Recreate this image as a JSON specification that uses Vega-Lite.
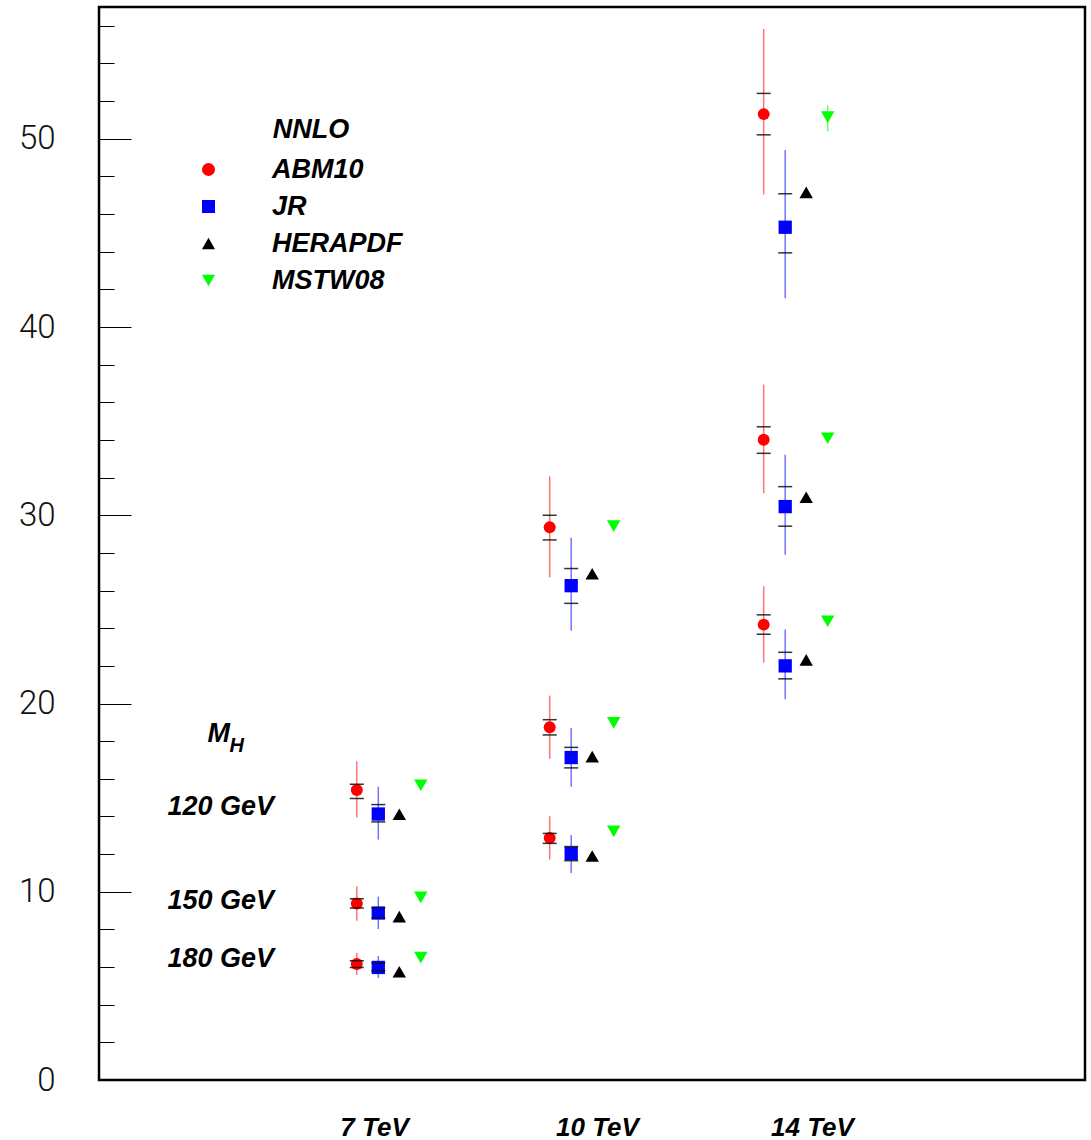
{
  "$schema": "https://vega.github.io/schema/vega-lite/v6.json",
  "width": 986,
  "height": 1073,
  "autosize": {"type": "none"},
  "padding": {"left": 99, "top": 7, "right": 6, "bottom": 60},
  "background": "white",
  "config": {
    "view": {"stroke": "#000", "strokeWidth": 2.5},
    "axis": {"grid": false, "domain": false}
  },
  "datasets": {
    "main": [
      {"E": 7, "mh": 120, "pdf": "ABM10", "v": 15.41, "lo": 13.95, "hi": 16.93, "tlo": 14.95, "thi": 15.71},
      {"E": 7, "mh": 120, "pdf": "JR", "v": 14.13, "lo": 12.77, "hi": 15.58, "tlo": 13.71, "thi": 14.63},
      {"E": 7, "mh": 120, "pdf": "HERAPDF", "v": 14.12},
      {"E": 7, "mh": 120, "pdf": "MSTW08", "v": 15.66},
      {"E": 7, "mh": 150, "pdf": "ABM10", "v": 9.38, "lo": 8.46, "hi": 10.29, "tlo": 9.14, "thi": 9.63},
      {"E": 7, "mh": 150, "pdf": "JR", "v": 8.87, "lo": 8.02, "hi": 9.74, "tlo": 8.61, "thi": 9.15},
      {"E": 7, "mh": 150, "pdf": "HERAPDF", "v": 8.68},
      {"E": 7, "mh": 150, "pdf": "MSTW08", "v": 9.7},
      {"E": 7, "mh": 180, "pdf": "ABM10", "v": 6.16, "lo": 5.58, "hi": 6.76, "tlo": 5.98, "thi": 6.34},
      {"E": 7, "mh": 180, "pdf": "JR", "v": 5.98, "lo": 5.42, "hi": 6.59, "tlo": 5.81, "thi": 6.22},
      {"E": 7, "mh": 180, "pdf": "HERAPDF", "v": 5.75},
      {"E": 7, "mh": 180, "pdf": "MSTW08", "v": 6.5},
      {"E": 10, "mh": 120, "pdf": "ABM10", "v": 29.36, "lo": 26.7, "hi": 32.07, "tlo": 28.69, "thi": 30.0},
      {"E": 10, "mh": 120, "pdf": "JR", "v": 26.26, "lo": 23.87, "hi": 28.8, "tlo": 25.32, "thi": 27.17},
      {"E": 10, "mh": 120, "pdf": "HERAPDF", "v": 26.89},
      {"E": 10, "mh": 120, "pdf": "MSTW08", "v": 29.42},
      {"E": 10, "mh": 150, "pdf": "ABM10", "v": 18.74, "lo": 17.06, "hi": 20.42, "tlo": 18.33, "thi": 19.14},
      {"E": 10, "mh": 150, "pdf": "JR", "v": 17.13, "lo": 15.58, "hi": 18.7, "tlo": 16.58, "thi": 17.67},
      {"E": 10, "mh": 150, "pdf": "HERAPDF", "v": 17.18},
      {"E": 10, "mh": 150, "pdf": "MSTW08", "v": 18.97},
      {"E": 10, "mh": 180, "pdf": "ABM10", "v": 12.86, "lo": 11.71, "hi": 14.01, "tlo": 12.57, "thi": 13.1},
      {"E": 10, "mh": 180, "pdf": "JR", "v": 12.04, "lo": 11.0, "hi": 13.02, "tlo": 11.65, "thi": 12.4},
      {"E": 10, "mh": 180, "pdf": "HERAPDF", "v": 11.9},
      {"E": 10, "mh": 180, "pdf": "MSTW08", "v": 13.21},
      {"E": 14, "mh": 120, "pdf": "ABM10", "v": 51.31, "lo": 47.04, "hi": 55.84, "tlo": 50.21, "thi": 52.41},
      {"E": 14, "mh": 120, "pdf": "JR", "v": 45.3, "lo": 41.53, "hi": 49.41, "tlo": 43.94, "thi": 47.08},
      {"E": 14, "mh": 120, "pdf": "HERAPDF", "v": 47.15},
      {"E": 14, "mh": 120, "pdf": "MSTW08", "v": 51.15, "lo": 50.4, "hi": 51.77},
      {"E": 14, "mh": 150, "pdf": "ABM10", "v": 34.01, "lo": 31.17, "hi": 36.94, "tlo": 33.29, "thi": 34.7},
      {"E": 14, "mh": 150, "pdf": "JR", "v": 30.46, "lo": 27.9, "hi": 33.21, "tlo": 29.42, "thi": 31.52},
      {"E": 14, "mh": 150, "pdf": "HERAPDF", "v": 30.96},
      {"E": 14, "mh": 150, "pdf": "MSTW08", "v": 34.09},
      {"E": 14, "mh": 180, "pdf": "ABM10", "v": 24.19, "lo": 22.17, "hi": 26.23, "tlo": 23.68, "thi": 24.71},
      {"E": 14, "mh": 180, "pdf": "JR", "v": 22.0, "lo": 20.22, "hi": 23.93, "tlo": 21.31, "thi": 22.72},
      {"E": 14, "mh": 180, "pdf": "HERAPDF", "v": 22.32},
      {"E": 14, "mh": 180, "pdf": "MSTW08", "v": 24.37}
    ],
    "ann": [
      {"kind": "mass", "t": "120 GeV", "E": 7, "yv": 14.49},
      {"kind": "mass", "t": "150 GeV", "E": 7, "yv": 9.49},
      {"kind": "mass", "t": "180 GeV", "E": 7, "yv": 6.43},
      {"kind": "M", "t": "M", "E": 7, "yv": 18.38},
      {"kind": "H", "t": "H", "E": 7, "yv": 17.74},
      {"kind": "title", "t": "NNLO", "E": 7, "yv": 50.44}
    ]
  },
  "data": {"name": "main"},
  "encoding": {
    "x": {
      "field": "E",
      "type": "quantitative",
      "title": null,
      "scale": {"domain": [4, 7, 10, 14, 18], "range": [0, 289.8, 482.7, 696.7, 986], "nice": false, "zero": false},
      "axis": {
        "title": null,
        "values": [6.847, 10.286, 14.225],
        "tickCount": 5,
        "labelExpr": "round(datum.value) + ' TeV'",
        "ticks": false,
        "domain": false,
        "labelFont": "Liberation Sans",
        "labelFontSize": 26,
        "labelFontWeight": "bold",
        "labelFontStyle": "italic",
        "labelColor": "#000",
        "labelBaseline": "middle",
        "labelPadding": 47,
        "labelFlush": false,
        "labelOverlap": false
      }
    }
  },
  "layer": [
    {
      "transform": [{"filter": "datum.pdf === 'ABM10'"}],
      "mark": {"type": "rule", "color": "#ff0000", "strokeWidth": 1.5, "opacity": 0.55, "xOffset": -32},
      "encoding": {
        "y": {"field": "lo", "type": "quantitative", "title": null, "scale": {"domain": [0, 57], "nice": false, "zero": false}},
        "y2": {"field": "hi"}
      }
    },
    {
      "transform": [{"filter": "datum.pdf === 'JR'"}],
      "mark": {"type": "rule", "color": "#0000ff", "strokeWidth": 1.5, "opacity": 0.55, "xOffset": -10.5},
      "encoding": {
        "y": {"field": "lo", "type": "quantitative", "title": null, "scale": {"domain": [0, 57], "nice": false, "zero": false}},
        "y2": {"field": "hi"}
      }
    },
    {
      "transform": [{"filter": "datum.pdf === 'MSTW08' && isValid(datum.lo)"}],
      "mark": {"type": "rule", "color": "#00ff00", "strokeWidth": 1.5, "opacity": 0.6, "xOffset": 32},
      "encoding": {
        "y": {"field": "lo", "type": "quantitative", "title": null, "scale": {"domain": [0, 57], "nice": false, "zero": false}},
        "y2": {"field": "hi"}
      }
    },
    {
      "transform": [{"filter": "datum.pdf === 'ABM10'"}],
      "mark": {"type": "point", "filled": true, "opacity": 1, "size": 143, "xOffset": -32},
      "encoding": {
        "y": {
          "field": "v",
          "type": "quantitative",
          "title": null,
          "scale": {"domain": [0, 57], "nice": false, "zero": false},
          "axis": {
            "title": null,
            "orient": "left",
            "values": [0, 2, 4, 6, 8, 10, 12, 14, 16, 18, 20, 22, 24, 26, 28, 30, 32, 34, 36, 38, 40, 42, 44, 46, 48, 50, 52, 54, 56],
            "tickCount": 40,
            "labelExpr": "datum.value % 10 === 0 ? datum.label : ''",
            "tickSize": {"condition": {"test": "datum.value % 10 === 0", "value": -32}, "value": -15},
            "tickColor": "#000",
            "tickWidth": 1,
            "domain": false,
            "grid": false,
            "labelFont": "Roboto",
            "labelFontWeight": 300,
            "labelFontSize": 33,
            "labelColor": "#111",
            "labelPadding": 76,
            "labelOverlap": false,
            "labelFlush": false
          }
        },
        "color": {
          "field": "pdf",
          "type": "nominal",
          "scale": {"domain": ["ABM10", "JR", "HERAPDF", "MSTW08"], "range": ["#ff0000", "#0000ff", "#000000", "#00ff00"]},
          "legend": {
            "orient": "none",
            "legendX": 96,
            "legendY": 149,
            "title": null,
            "labelFont": "Liberation Sans",
            "labelFontSize": 27,
            "labelFontWeight": "bold",
            "labelFontStyle": "italic",
            "labelColor": "#000",
            "labelOffset": 50,
            "rowPadding": 9,
            "symbolSize": 170,
            "symbolStrokeWidth": 0,
            "padding": 0
          }
        },
        "shape": {
          "field": "pdf",
          "type": "nominal",
          "scale": {"domain": ["ABM10", "JR", "HERAPDF", "MSTW08"], "range": ["circle", "square", "triangle-up", "triangle-down"]},
          "legend": {
            "orient": "none",
            "legendX": 96,
            "legendY": 149,
            "title": null,
            "labelFont": "Liberation Sans",
            "labelFontSize": 27,
            "labelFontWeight": "bold",
            "labelFontStyle": "italic",
            "labelColor": "#000",
            "labelOffset": 50,
            "rowPadding": 9,
            "symbolSize": 170,
            "symbolStrokeWidth": 0,
            "padding": 0
          }
        }
      }
    },
    {
      "transform": [{"filter": "datum.pdf === 'JR'"}],
      "mark": {"type": "point", "filled": true, "opacity": 1, "size": 177, "xOffset": -10.5},
      "encoding": {
        "y": {"field": "v", "type": "quantitative", "title": null, "scale": {"domain": [0, 57], "nice": false, "zero": false}},
        "color": {"field": "pdf", "type": "nominal"},
        "shape": {"field": "pdf", "type": "nominal"}
      }
    },
    {
      "transform": [{"filter": "datum.pdf === 'HERAPDF'"}],
      "mark": {"type": "point", "filled": true, "opacity": 1, "size": 180, "xOffset": 10.5},
      "encoding": {
        "y": {"field": "v", "type": "quantitative", "title": null, "scale": {"domain": [0, 57], "nice": false, "zero": false}},
        "color": {"field": "pdf", "type": "nominal"},
        "shape": {"field": "pdf", "type": "nominal"}
      }
    },
    {
      "transform": [{"filter": "datum.pdf === 'MSTW08'"}],
      "mark": {"type": "point", "filled": true, "opacity": 1, "size": 180, "xOffset": 32},
      "encoding": {
        "y": {"field": "v", "type": "quantitative", "title": null, "scale": {"domain": [0, 57], "nice": false, "zero": false}},
        "color": {"field": "pdf", "type": "nominal"},
        "shape": {"field": "pdf", "type": "nominal"}
      }
    },
    {
      "transform": [{"filter": "datum.pdf === 'ABM10'"}, {"fold": ["tlo", "thi"], "as": ["k", "t"]}],
      "mark": {"type": "tick", "orient": "horizontal", "size": 14, "thickness": 1.5, "color": "#111", "opacity": 0.85, "xOffset": -32},
      "encoding": {
        "y": {"field": "t", "type": "quantitative", "title": null, "scale": {"domain": [0, 57], "nice": false, "zero": false}}
      }
    },
    {
      "transform": [{"filter": "datum.pdf === 'JR'"}, {"fold": ["tlo", "thi"], "as": ["k", "t"]}],
      "mark": {"type": "tick", "orient": "horizontal", "size": 14, "thickness": 1.5, "color": "#111", "opacity": 0.85, "xOffset": -10.5},
      "encoding": {
        "y": {"field": "t", "type": "quantitative", "title": null, "scale": {"domain": [0, 57], "nice": false, "zero": false}}
      }
    },
    {
      "data": {"name": "ann"},
      "transform": [{"filter": "datum.kind === 'mass'"}],
      "mark": {"type": "text", "font": "Liberation Sans", "fontSize": 27, "fontWeight": "bold", "fontStyle": "italic", "fill": "#000", "align": "center", "baseline": "middle", "dx": -168},
      "encoding": {
        "y": {"field": "yv", "type": "quantitative", "title": null, "scale": {"domain": [0, 57], "nice": false, "zero": false}},
        "text": {"field": "t", "type": "nominal"}
      }
    },
    {
      "data": {"name": "ann"},
      "transform": [{"filter": "datum.kind === 'title'"}],
      "mark": {"type": "text", "font": "Liberation Sans", "fontSize": 27, "fontWeight": "bold", "fontStyle": "italic", "fill": "#000", "align": "left", "baseline": "middle", "dx": -116},
      "encoding": {
        "y": {"field": "yv", "type": "quantitative", "title": null, "scale": {"domain": [0, 57], "nice": false, "zero": false}},
        "text": {"field": "t", "type": "nominal"}
      }
    },
    {
      "data": {"name": "ann"},
      "transform": [{"filter": "datum.kind === 'M'"}],
      "mark": {"type": "text", "font": "Liberation Sans", "fontSize": 27, "fontWeight": "bold", "fontStyle": "italic", "fill": "#000", "align": "center", "baseline": "middle", "dx": -170},
      "encoding": {
        "y": {"field": "yv", "type": "quantitative", "title": null, "scale": {"domain": [0, 57], "nice": false, "zero": false}},
        "text": {"field": "t", "type": "nominal"}
      }
    },
    {
      "data": {"name": "ann"},
      "transform": [{"filter": "datum.kind === 'H'"}],
      "mark": {"type": "text", "font": "Liberation Sans", "fontSize": 20, "fontWeight": "bold", "fontStyle": "italic", "fill": "#000", "align": "center", "baseline": "middle", "dx": -152},
      "encoding": {
        "y": {"field": "yv", "type": "quantitative", "title": null, "scale": {"domain": [0, 57], "nice": false, "zero": false}},
        "text": {"field": "t", "type": "nominal"}
      }
    }
  ]
}
